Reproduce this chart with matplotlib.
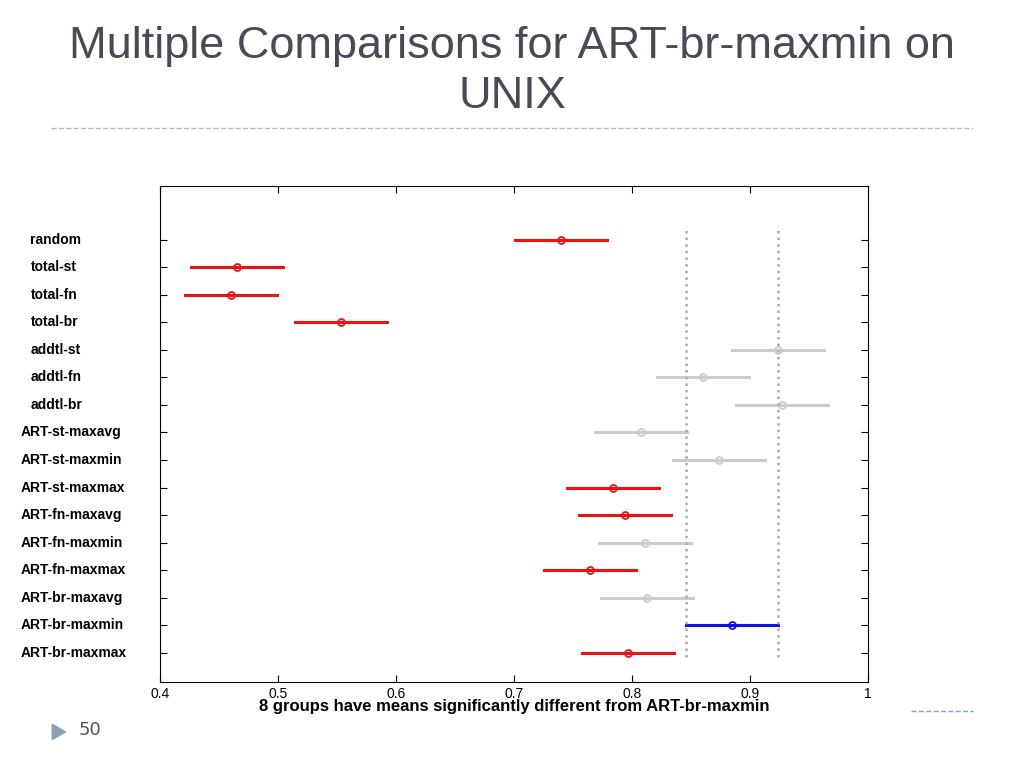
import matplotlib.pyplot as plt
from matplotlib.patches import Polygon

groups = ['random', 'total-st', 'total-fn', 'total-br', 'addtl-st', 'addtl-fn', 'addtl-br',
          'ART-st-maxavg', 'ART-st-maxmin', 'ART-st-maxmax', 'ART-fn-maxavg', 'ART-fn-maxmin',
          'ART-fn-maxmax', 'ART-br-maxavg', 'ART-br-maxmin', 'ART-br-maxmax']
means = [0.740, 0.465, 0.460, 0.553, 0.924, 0.860, 0.927, 0.808, 0.874, 0.784,
         0.794, 0.811, 0.764, 0.813, 0.885, 0.797]
half_width = 0.039
# r = significantly different, g = not, b = reference group
status = ['r', 'r', 'r', 'r', 'g', 'g', 'g', 'g', 'g', 'r', 'r', 'g', 'r', 'g', 'b', 'r']
colors = {'r': '#ee1111', 'g': '#cccccc', 'b': '#1111dd'}

fig = plt.figure(figsize=(10.24, 7.68), dpi=100)
fig.text(0.5, 0.94, 'Multiple Comparisons for ART-br-maxmin on', ha='center', va='center',
         fontsize=32.5, color='#4a4a55', family='Liberation Sans')
fig.text(0.5, 0.875, 'UNIX', ha='center', va='center', fontsize=32.5, color='#4a4a55',
         family='Liberation Sans')
fig.add_artist(plt.Line2D([0.05, 0.95], [0.833, 0.833], color='#bbbbbb', ls='--', lw=1))
fig.add_artist(plt.Line2D([0.89, 0.95], [0.074, 0.074], color='#8aa0b8', ls='--', lw=1))
fig.add_artist(Polygon([[0.051, 0.057], [0.051, 0.037], [0.064, 0.047]], closed=True,
                       color='#8aa0b8', transform=fig.transFigure))
fig.text(0.077, 0.049, '50', ha='left', va='center', fontsize=13, color='#555555')

ax = fig.add_axes([160 / 1024, 1 - 682 / 768, 708 / 1024, 496 / 768])
rows = list(range(1, len(groups) + 1))
for y, m, s in zip(rows, means, status):
    c = colors[s]
    ax.plot([m - half_width, m + half_width], [y, y], color=c, lw=2.2)
    ax.plot(m, y, 'o', ms=5, mfc='none', mec=c, mew=1.3)

ref = means[groups.index('ART-br-maxmin')]
for v in (ref - half_width, ref + half_width):
    ax.axvline(v, color='#aaaaaa', ls=':', lw=1.8, ymin=0.05, ymax=0.92)

ax.set_xlim(0.4, 1.0)
ax.set_ylim(17.07, -0.96)
ax.set_xticks([0.4, 0.5, 0.6, 0.7, 0.8, 0.9, 1.0])
ax.set_xticklabels(['0.4', '0.5', '0.6', '0.7', '0.8', '0.9', '1'], fontsize=10,
                   family='Liberation Sans')
ax.set_yticks(rows)
ax.set_yticklabels([])
ax.tick_params(direction='in', top=True, right=True, length=5)
for y, g in zip(rows, groups):
    x0 = -0.183 if len(g) < 9 else -0.197
    ax.text(x0, y, g, transform=ax.get_yaxis_transform(), ha='left', va='center',
            fontsize=10, fontweight='bold', family='Liberation Sans')
ax.set_xlabel('8 groups have means significantly different from ART-br-maxmin',
              fontsize=12, fontweight='bold', labelpad=-1, family='Liberation Sans')

fig.savefig('out.png')
